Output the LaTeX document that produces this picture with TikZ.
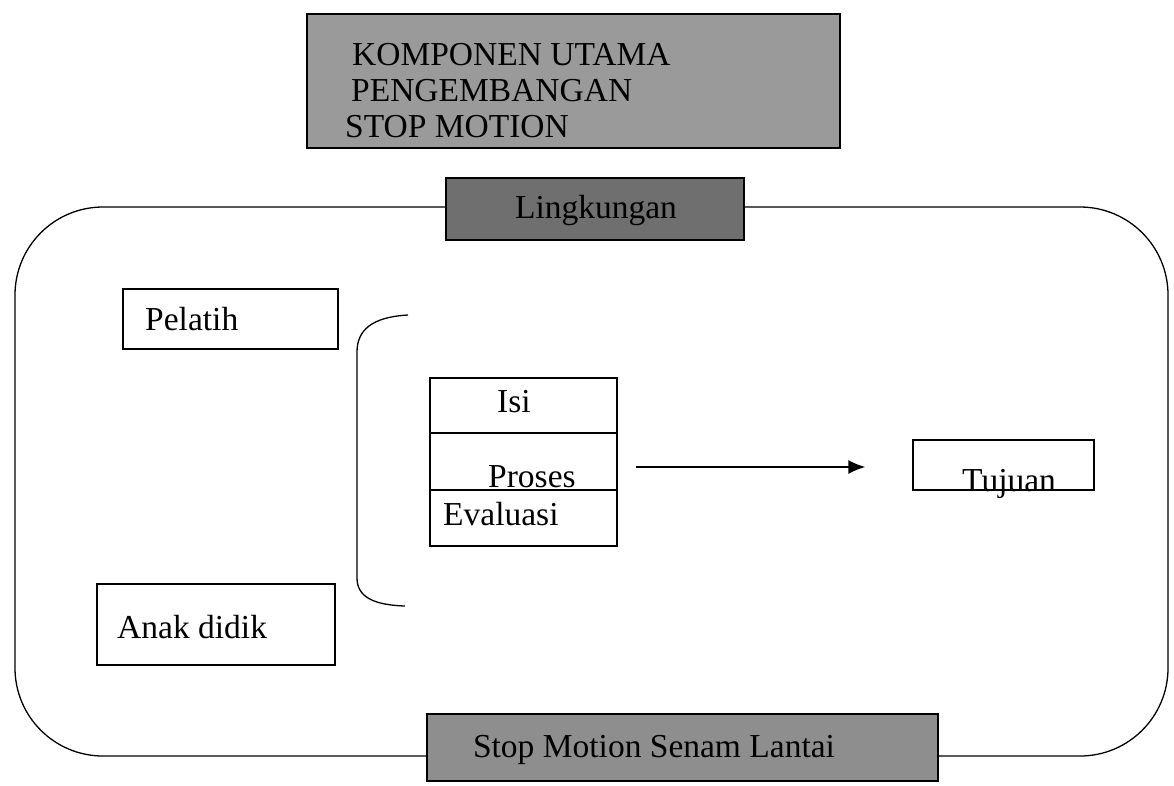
\documentclass[tikz,border=0pt]{standalone}
\usepackage{fontspec}
\setmainfont{Liberation Serif}
\usetikzlibrary{arrows.meta}
\definecolor{titlegray}{HTML}{9A9A9A}
\definecolor{envgray}{HTML}{6F6F6F}
\definecolor{footgray}{HTML}{8E8E8E}
\begin{document}
\begin{tikzpicture}[x=1pt,y=-1pt,
  txt/.style={font=\fontsize{33.5}{36}\selectfont, inner sep=0pt, anchor=base west},
  txtc/.style={font=\fontsize{33.5}{36}\selectfont, inner sep=0pt, anchor=base},
  wbox/.style={draw, line width=1.3pt, fill=white, inner sep=0pt},
  gbox/.style={draw, line width=1.6pt, inner sep=0pt},
  ln/.style={line width=1.3pt},
  arrowline/.style={line width=1.6pt, -{Latex[length=17pt,width=14pt]}}]
\useasboundingbox (0,0) rectangle (1174,785);
\fill[white] (0,0) rectangle (1174,785);
% environment frame
\node[draw, line width=1.3pt, rounded corners=88pt, inner sep=0pt,
      minimum width=1153pt, minimum height=549pt] (env) at (591.5,481.5) {};
% grey boxes
\node[gbox, fill=titlegray, minimum width=533pt, minimum height=134pt] (title) at (573.5,81) {};
\node[gbox, fill=envgray, minimum width=298pt, minimum height=62pt] (ling) at (595,209) {};
\node[gbox, fill=footgray, minimum width=511pt, minimum height=67pt] (foot) at (682.5,747.5) {};
% white boxes
\node[wbox, minimum width=215pt, minimum height=60pt] (pel) at (230.5,319) {};
\node[wbox, minimum width=238pt, minimum height=81pt] (anak) at (216,624.5) {};
\node[wbox, minimum width=187pt, minimum height=168pt] (stack) at (523.5,462) {};
\node[wbox, minimum width=181pt, minimum height=50pt] (tuj) at (1003.5,465) {};
% dividers of the stack
\draw[ln] (stack.west |- 0,433) -- (stack.east |- 0,433);
\draw[ln] (stack.west |- 0,490) -- (stack.east |- 0,490);
% bracket
\draw[ln] (408,315) .. controls (372,317) and (357,330) .. (357,352) -- (357,578)
          .. controls (357,596) and (372,605) .. (405,606);
% arrow
\draw[arrowline, shorten <=18pt, shorten >=47pt] (stack.east |- 0,467) -- (tuj.west |- 0,467);
% texts
\node[txt] (t1) at (352,65) {KOMPONEN UTAMA};
\node[txt] (t2) at (351,101) {PENGEMBANGAN};
\node[txt] (t3) at (345,137) {STOP MOTION};
\node[txtc] (tl) at (596,218) {Lingkungan};
\node[txt] (tp) at (145,330) {Pelatih};
\node[txt] (ta) at (117,638) {Anak didik};
\node[txt] (ti) at (497,412) {Isi};
\node[txt] (tpr) at (488,487) {Proses};
\node[txt] (te) at (443,525) {Evaluasi};
\node[txt] (tt) at (962,491) {Tujuan};
\node[txtc] (tf) at (654,757) {Stop Motion Senam Lantai};
\end{tikzpicture}
\end{document}
